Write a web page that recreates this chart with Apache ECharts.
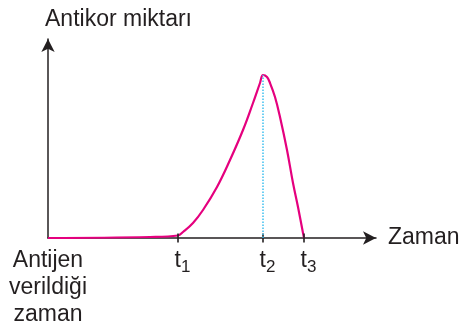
<!DOCTYPE html>
<html>
<head>
<meta charset="utf-8">
<script src="https://cdn.jsdelivr.net/npm/echarts@6/dist/echarts.min.js"></script>
<style>
html,body{margin:0;padding:0;background:#fff;}
#grafik{width:463px;height:329px;}
</style>
</head>
<body>
<div id="grafik"></div>
<script>
// zaman ekseni (t1=130, t2=215, t3=256)
var zaman = [0, 102, 130, 135, 145, 155, 169, 182, 195, 205, 212, 215, 219, 222, 227, 232, 239, 245, 250, 255, 256];
// antikor miktari
var antikor = [0, 1, 2.5, 6, 15, 28, 51, 78, 108, 135, 155, 163, 161, 155, 141, 121, 88, 55, 31, 5, 0];
var tDegerleri = [130, 215, 256];
var etiketDeger = [0, 130, 215, 256];
var etiketAd = ['Antijen\nverildiği\nzaman', 't1', 't2', 't3'];
var tepe = [215, 163];

var yazi = "'Liberation Sans', Arial, sans-serif";
var koyu = '#231f20';

var egri = [];
for (var i = 0; i < zaman.length; i++) {
	egri.push([zaman[i], antikor[i]]);
}
var isaretler = [];
for (var j = 0; j < tDegerleri.length; j++) {
	isaretler.push([tDegerleri[j], 0]);
}

var chart = echarts.init(document.getElementById('grafik'));
chart.setOption({
	animation: false,
	title: {
		text: 'Antikor miktarı',
		left: 40, top: 3,
		textStyle: {fontFamily: yazi, fontSize: 23, fontWeight: 'normal', color: koyu}
	},
	grid: {left: 48, right: 87, top: 39, bottom: 91},
	xAxis: {
		type: 'value', min: 0, max: 328,
		name: 'Zaman', nameLocation: 'end', nameGap: 12,
		nameTextStyle: {fontFamily: yazi, fontSize: 23, color: koyu, verticalAlign: 'middle'},
		axisLine: {lineStyle: {color: koyu, width: 1.5}, symbol: ['none', 'arrow'], symbolSize: [10, 13]},
		axisTick: {show: false},
		splitLine: {show: false},
		axisLabel: {
			customValues: etiketDeger,
			margin: 9,
			fontFamily: yazi, color: koyu,
			formatter: function (v) {
				var k = etiketDeger.indexOf(v);
				var ad = etiketAd[k];
				if (k == 0) return '{a|' + ad + '}';
				return '{b|}{t|' + ad.charAt(0) + '}{s|' + ad.substring(1) + '}';
			},
			rich: {
				a: {fontFamily: yazi, fontSize: 23, lineHeight: 27, color: koyu, align: 'center'},
				b: {width: 9},
				t: {fontFamily: yazi, fontSize: 23, lineHeight: 27, color: koyu},
				s: {fontFamily: yazi, fontSize: 17, lineHeight: 17, color: koyu, padding: [13, 0, 0, 0]}
			}
		}
	},
	yAxis: {
		type: 'value', min: 0, max: 199,
		axisLine: {show: true, lineStyle: {color: koyu, width: 1.5}, symbol: ['none', 'arrow'], symbolSize: [10, 13]},
		axisTick: {show: false},
		axisLabel: {show: false},
		splitLine: {show: false}
	},
	series: [
		{
			type: 'line',
			data: egri,
			smooth: 0.4,
			showSymbol: false,
			lineStyle: {color: '#e5007e', width: 2.2},
			markLine: {
				silent: true,
				symbol: 'none',
				label: {show: false},
				lineStyle: {color: '#3ec0ef', type: 'dotted', width: 1.5},
				data: [[{coord: [tepe[0], 0]}, {coord: [tepe[0], tepe[1]]}]]
			},
			z: 3
		},
		{
			type: 'scatter',
			data: isaretler,
			symbol: 'rect',
			symbolSize: [2, 9],
			itemStyle: {color: koyu},
			silent: true,
			z: 4
		}
	]
});
</script>
</body>
</html>
